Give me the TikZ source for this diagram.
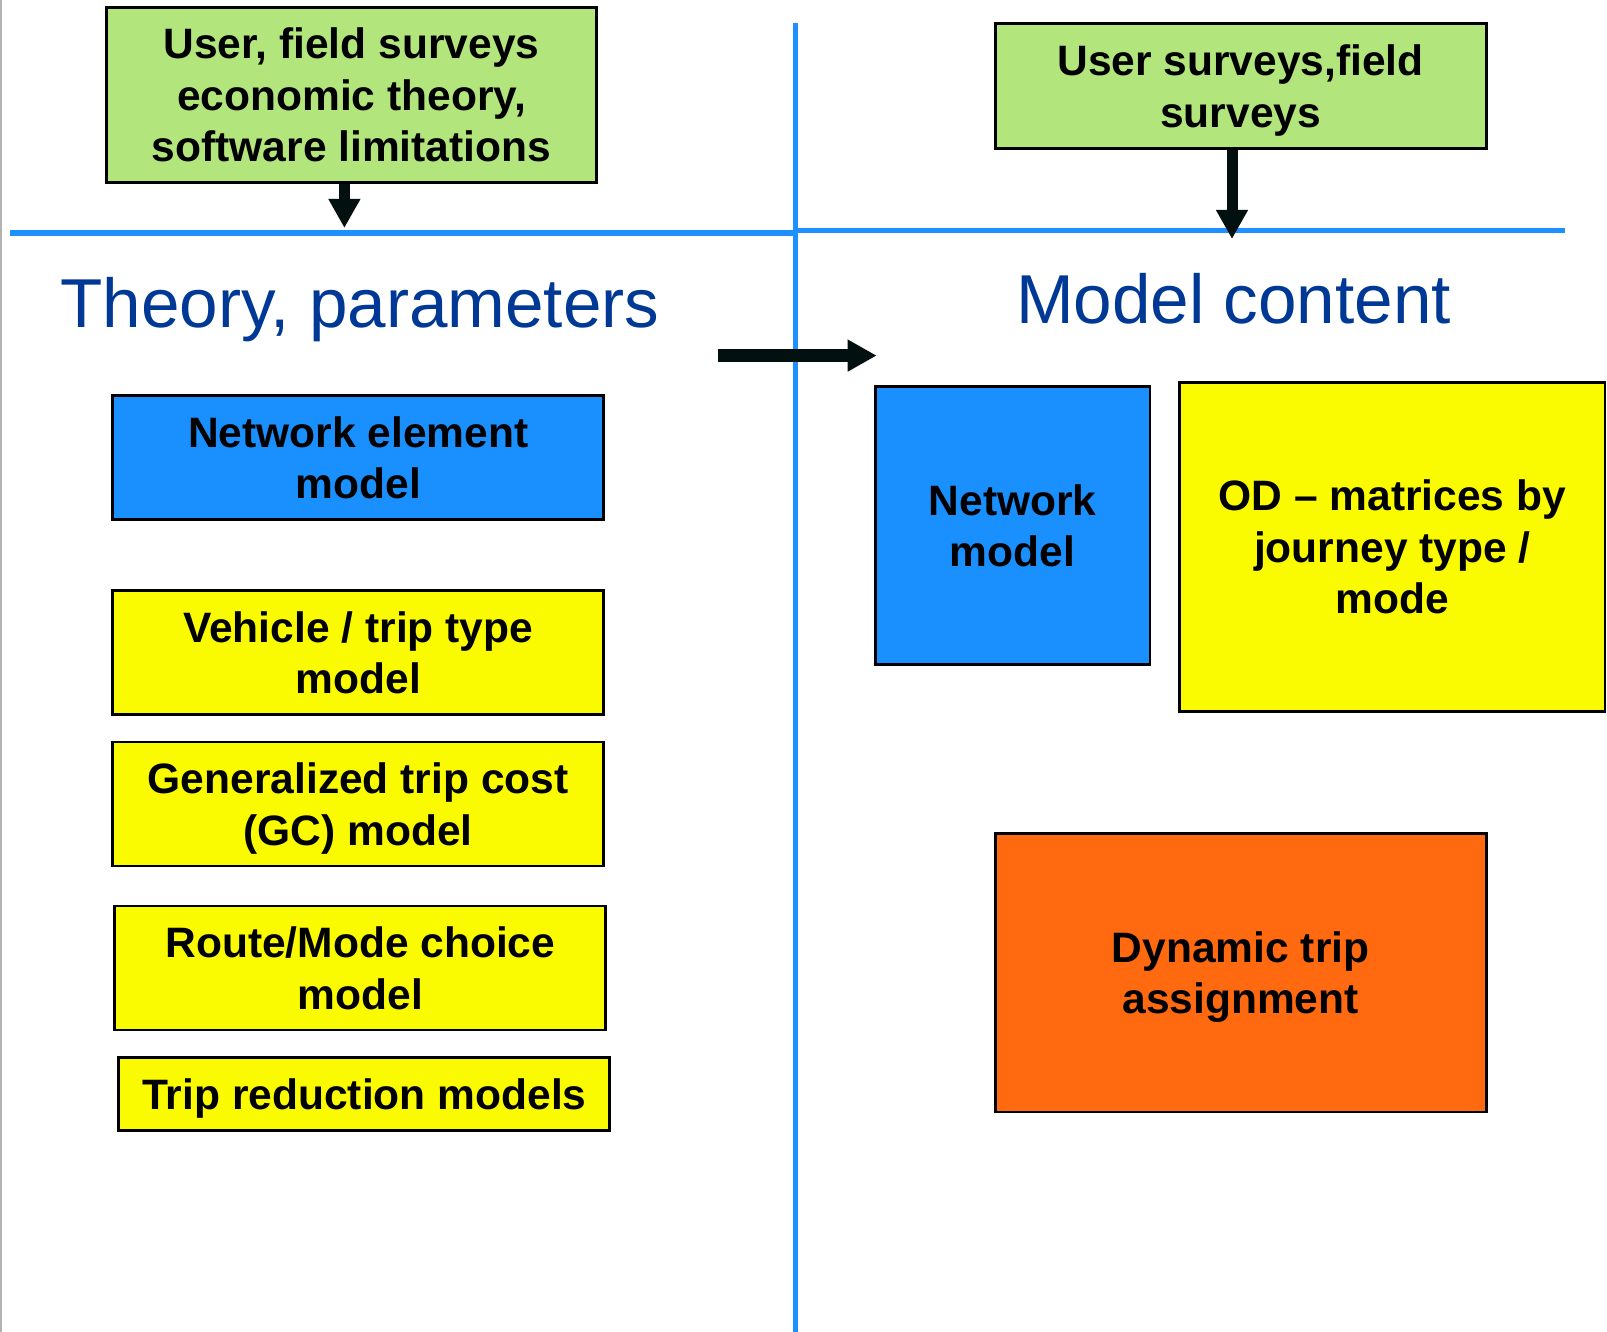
\documentclass[tikz,border=0pt]{standalone}
\usepackage{fontspec}
\setmainfont{Liberation Sans}
\usepackage{tikz}
\usetikzlibrary{arrows.meta}
\definecolor{surveygreen}{RGB}{178,230,125}
\definecolor{netblue}{RGB}{26,144,255}
\definecolor{lineblue}{RGB}{30,144,255}
\definecolor{modelyellow}{RGB}{250,250,0}
\definecolor{assignorange}{RGB}{255,106,16}
\definecolor{headblue}{RGB}{0,56,150}
\definecolor{arrowblack}{RGB}{2,16,16}
\tikzset {
modelbox/.style={shape=rectangle,draw=black,line width=0.8pt,inner sep=0pt,text depth=0pt,align=center,font=\fontsize{12.1}{14.6}\selectfont\bfseries},
survey/.style={modelbox,fill=surveygreen},
network/.style={modelbox,fill=netblue},
submodel/.style={modelbox,fill=modelyellow},
assignment/.style={modelbox,fill=assignorange},
heading/.style={text=headblue,font=\fontsize{19.7}{23.6}\selectfont,inner sep=0pt},
divider/.style={draw=lineblue,line width=1.5pt},
flow/.style={draw=arrowblack,line width=0.11cm}
}
\begin{document}
\begin{tikzpicture}
[>={Triangle[length=0.29cm,width=0.30cm]}]
\useasboundingbox (0,0) rectangle (16.07,-13.32);
\draw[gray!60,line width=0.4pt] (0.01,0) -- (0.01,-13.32);
\draw[divider] (7.953,-0.23) -- (7.953,-13.32);
\draw[divider] (0.10,-2.33) -- (7.953,-2.33);
\draw[divider] (7.953,-2.305) -- (15.65,-2.305);

\node[survey,minimum width=4.90cm,minimum height=1.75cm] (theory sources) at (3.515,-0.948) {User, field surveys\\economic theory,\\software limitations};
\node[survey,minimum width=4.91cm,minimum height=1.25cm] (content sources) at (12.406,-0.861) {User surveys,field\\surveys};
\node[heading,anchor=base] (theory heading) at (3.60,-3.28) {Theory, parameters};
\node[heading,anchor=base] (content heading) at (12.335,-3.24) {Model content};

\node[network,minimum width=4.91cm,minimum height=1.24cm] (network element model) at (3.582,-4.576) {Network element\\model};
\node[submodel,minimum width=4.91cm,minimum height=1.24cm] (vehicle model) at (3.582,-6.524) {Vehicle / trip type\\model};
\node[submodel,minimum width=4.91cm,minimum height=1.24cm] (gc model) at (3.582,-8.040) {Generalized trip cost\\(GC) model};
\node[submodel,minimum width=4.91cm,minimum height=1.24cm] (choice model) at (3.603,-9.680) {Route/Mode choice\\model};
\node[submodel,minimum width=4.91cm,minimum height=0.73cm] (reduction models) at (3.644,-10.941) {Trip reduction models};

\node[network,minimum width=2.747cm,minimum height=2.777cm] (network model) at (10.126,-5.253) {Network\\model};
\node[submodel,minimum width=4.253cm,minimum height=3.29cm] (od matrices) at (13.923,-5.468) {OD – matrices by\\journey type /\\mode};
\node[assignment,minimum width=4.91cm,minimum height=2.788cm] (trip assignment) at (12.406,-9.726) {Dynamic trip\\assignment};

\coordinate (theory inflow) at (3.444,-2.28);
\coordinate (content inflow) at (12.32,-2.39);
\coordinate (transfer start) at (7.18,-3.556);
\coordinate (transfer end) at (8.767,-3.556);
\draw[flow,->] (theory sources.south -| theory inflow) -- (theory inflow);
\draw[flow,->] (content sources.south -| content inflow) -- (content inflow);
\draw[flow,->,line width=0.125cm] (transfer start) -- (transfer end);
\end{tikzpicture}
\end{document}
